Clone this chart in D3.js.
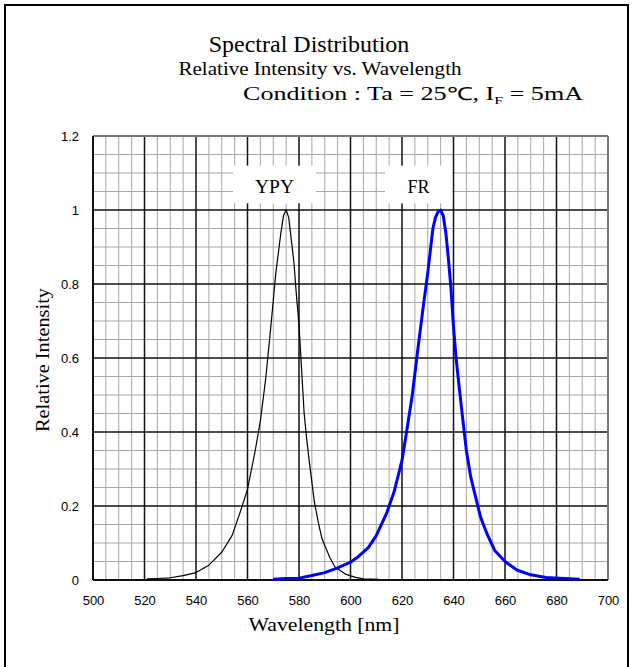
<!DOCTYPE html>
<html>
<head>
<meta charset="utf-8">
<script src="https://cdn.jsdelivr.net/npm/d3@7"></script>
<style>
  body { margin: 0; background: #fff; }
  svg { display: block; }
</style>
</head>
<body>
<div id="chart"></div>
<script>
// Wavelength / relative intensity
const ypyWl  = [521, 525, 530, 535, 540, 545, 550, 554, 557, 560, 563, 565, 567, 569, 571, 573, 574, 575, 576, 577, 578, 579, 580, 581, 582, 583, 584, 586, 587.6, 589, 592, 594, 598, 602, 605, 611];
const ypyVal = [0.003, 0.004, 0.006, 0.012, 0.02, 0.04, 0.075, 0.12, 0.18, 0.245, 0.35, 0.43, 0.54, 0.68, 0.83, 0.94, 0.985, 1.0, 0.98, 0.92, 0.86, 0.77, 0.69, 0.57, 0.45, 0.38, 0.32, 0.21, 0.152, 0.11, 0.06, 0.035, 0.016, 0.007, 0.003, 0.002];

const frWl  = [570, 575, 580, 585, 590, 595, 600, 603, 607, 610, 614, 617, 620, 622, 624, 626, 628, 630, 631, 632, 633, 634, 635, 636, 637, 638, 639, 640, 641, 642, 643.5, 645, 646.7, 648.6, 650.5, 653, 656, 660, 664.6, 670, 676, 681, 689];
const frVal = [0.002, 0.004, 0.005, 0.012, 0.02, 0.033, 0.048, 0.063, 0.088, 0.12, 0.18, 0.24, 0.323, 0.41, 0.5, 0.615, 0.725, 0.83, 0.89, 0.95, 0.98, 0.995, 1.0, 0.985, 0.94, 0.87, 0.79, 0.684, 0.6, 0.535, 0.44, 0.35, 0.278, 0.224, 0.17, 0.125, 0.08, 0.05, 0.027, 0.014, 0.007, 0.005, 0.002];

const xTicks = [500, 520, 540, 560, 580, 600, 620, 640, 660, 680, 700];
const yTicks = [0, 0.2, 0.4, 0.6, 0.8, 1, 1.2];
const seriesNames = ["YPY", "FR"];

const W = 633, H = 667;
const margin = {top: 136, right: 25, bottom: 87, left: 93},
    width = 608 - margin.left,
    height = 580 - margin.top;

const svg = d3.select("#chart")
  .append("svg")
    .attr("width", W)
    .attr("height", H);

// outer frame
svg.append("path")
    .attr("d", "M5,668 L5,5 L628,5 L628,668")
    .attr("fill", "none")
    .attr("stroke", "#000")
    .attr("stroke-width", 2);

// titles (the original text is stretched sideways, so widths are forced)
const serif = "'Liberation Serif', 'Times New Roman', serif";
svg.append("text")
    .attr("x", 309).attr("y", 52)
    .attr("text-anchor", "middle")
    .style("font-family", serif).style("font-size", "24px")
    .text("Spectral Distribution");
svg.append("text")
    .attr("x", 320).attr("y", 75)
    .attr("text-anchor", "middle")
    .attr("textLength", 283).attr("lengthAdjust", "spacingAndGlyphs")
    .style("font-family", serif).style("font-size", "18px")
    .text("Relative Intensity vs. Wavelength");
const cond = svg.append("text")
    .attr("x", 243).attr("y", 100)
    .attr("textLength", 340).attr("lengthAdjust", "spacingAndGlyphs")
    .style("font-family", serif).style("font-size", "18px");
cond.append("tspan").text("Condition : Ta = 25\u2103, I");
cond.append("tspan").attr("dy", 4).style("font-size", "11px").text("F");
cond.append("tspan").attr("dy", -4).text(" = 5mA");

const g = svg.append("g")
    .attr("transform", `translate(${margin.left},${margin.top})`);

const x = d3.scaleLinear().domain([500, 700]).range([0, width]);
const y = d3.scaleLinear().domain([0, 1.2]).range([height, 0]);

// minor grid
g.append("g")
  .selectAll("line")
  .data(d3.range(505, 700, 5).filter(v => v % 20 !== 0))
  .join("line")
    .attr("x1", d => x(d)).attr("x2", d => x(d))
    .attr("y1", 0).attr("y2", height)
    .attr("stroke", "#a6a6a6").attr("stroke-width", 1);
g.append("g")
  .selectAll("line")
  .data(d3.range(1, 24).map(i => i * 0.05).filter((v, i) => (i + 1) % 4 !== 0))
  .join("line")
    .attr("y1", d => y(d)).attr("y2", d => y(d))
    .attr("x1", 0).attr("x2", width)
    .attr("stroke", "#a6a6a6").attr("stroke-width", 1);

// major grid
g.append("g")
  .selectAll("line")
  .data(xTicks.slice(1, -1))
  .join("line")
    .attr("x1", d => x(d)).attr("x2", d => x(d))
    .attr("y1", 0).attr("y2", height)
    .attr("stroke", "#111").attr("stroke-width", 1.5);
g.append("g")
  .selectAll("line")
  .data(yTicks.slice(1, -1))
  .join("line")
    .attr("y1", d => y(d)).attr("y2", d => y(d))
    .attr("x1", 0).attr("x2", width)
    .attr("stroke", "#111").attr("stroke-width", 1.5);

// plot border
g.append("line").attr("x1", 0).attr("x2", width).attr("y1", 0).attr("y2", 0)
    .attr("stroke", "#777").attr("stroke-width", 2);
g.append("line").attr("x1", width).attr("x2", width).attr("y1", 0).attr("y2", height)
    .attr("stroke", "#777").attr("stroke-width", 2);
g.append("line").attr("x1", 0).attr("x2", 0).attr("y1", 0).attr("y2", height)
    .attr("stroke", "#111").attr("stroke-width", 2);
g.append("line").attr("x1", 0).attr("x2", width).attr("y1", height).attr("y2", height)
    .attr("stroke", "#111").attr("stroke-width", 2);

// label boxes with white background
const labels = [
  {name: seriesNames[0], x0: 554.4, x1: 586.6, w: 39},
  {name: seriesNames[1], x0: 613.4, x1: 639.5, w: 22}
];
labels.forEach(l => {
  g.append("rect")
      .attr("x", x(l.x0)).attr("y", y(1.12))
      .attr("width", x(l.x1) - x(l.x0))
      .attr("height", y(1.018) - y(1.12))
      .attr("fill", "#fff");
  g.append("text")
      .attr("x", (x(l.x0) + x(l.x1)) / 2)
      .attr("y", y(1.045))
      .attr("text-anchor", "middle")
      .attr("textLength", l.w).attr("lengthAdjust", "spacingAndGlyphs")
      .style("font-family", serif).style("font-size", "18px")
      .text(l.name);
});

// axes (labels only)
g.append("g")
    .attr("transform", `translate(0,${height})`)
    .call(d3.axisBottom(x).tickValues(xTicks).tickSize(0).tickPadding(16).tickFormat(d3.format("d")))
    .call(a => a.select(".domain").remove())
    .selectAll("text")
      .style("font-family", "'Liberation Sans', Arial, sans-serif")
      .style("font-size", "13px")
      .attr("fill", "#000");

g.append("g")
    .call(d3.axisLeft(y).tickValues(yTicks).tickSize(0).tickPadding(14).tickFormat(d => String(+d.toFixed(1))))
    .call(a => a.select(".domain").remove())
    .selectAll("text")
      .style("font-family", "'Liberation Sans', Arial, sans-serif")
      .style("font-size", "13px")
      .attr("fill", "#000");

// axis titles
svg.append("text")
    .attr("x", 324).attr("y", 631)
    .attr("text-anchor", "middle")
    .attr("textLength", 151).attr("lengthAdjust", "spacingAndGlyphs")
    .style("font-family", serif).style("font-size", "18px")
    .text("Wavelength [nm]");
svg.append("text")
    .attr("transform", "translate(49,360) rotate(-90)")
    .attr("text-anchor", "middle")
    .attr("textLength", 144).attr("lengthAdjust", "spacingAndGlyphs")
    .style("font-family", serif).style("font-size", "18px")
    .text("Relative Intensity");

// curves
const line = d3.line().x(d => x(d[0])).y(d => y(d[1]));
g.append("path")
    .datum(d3.zip(ypyWl, ypyVal))
    .attr("fill", "none").attr("stroke", "#000").attr("stroke-width", 1.2)
    .attr("stroke-linejoin", "round")
    .attr("d", line);
g.append("path")
    .datum(d3.zip(frWl, frVal))
    .attr("fill", "none").attr("stroke", "#0000ff").attr("stroke-width", 3)
    .attr("stroke-linejoin", "round")
    .attr("d", line);
</script>
</body>
</html>
